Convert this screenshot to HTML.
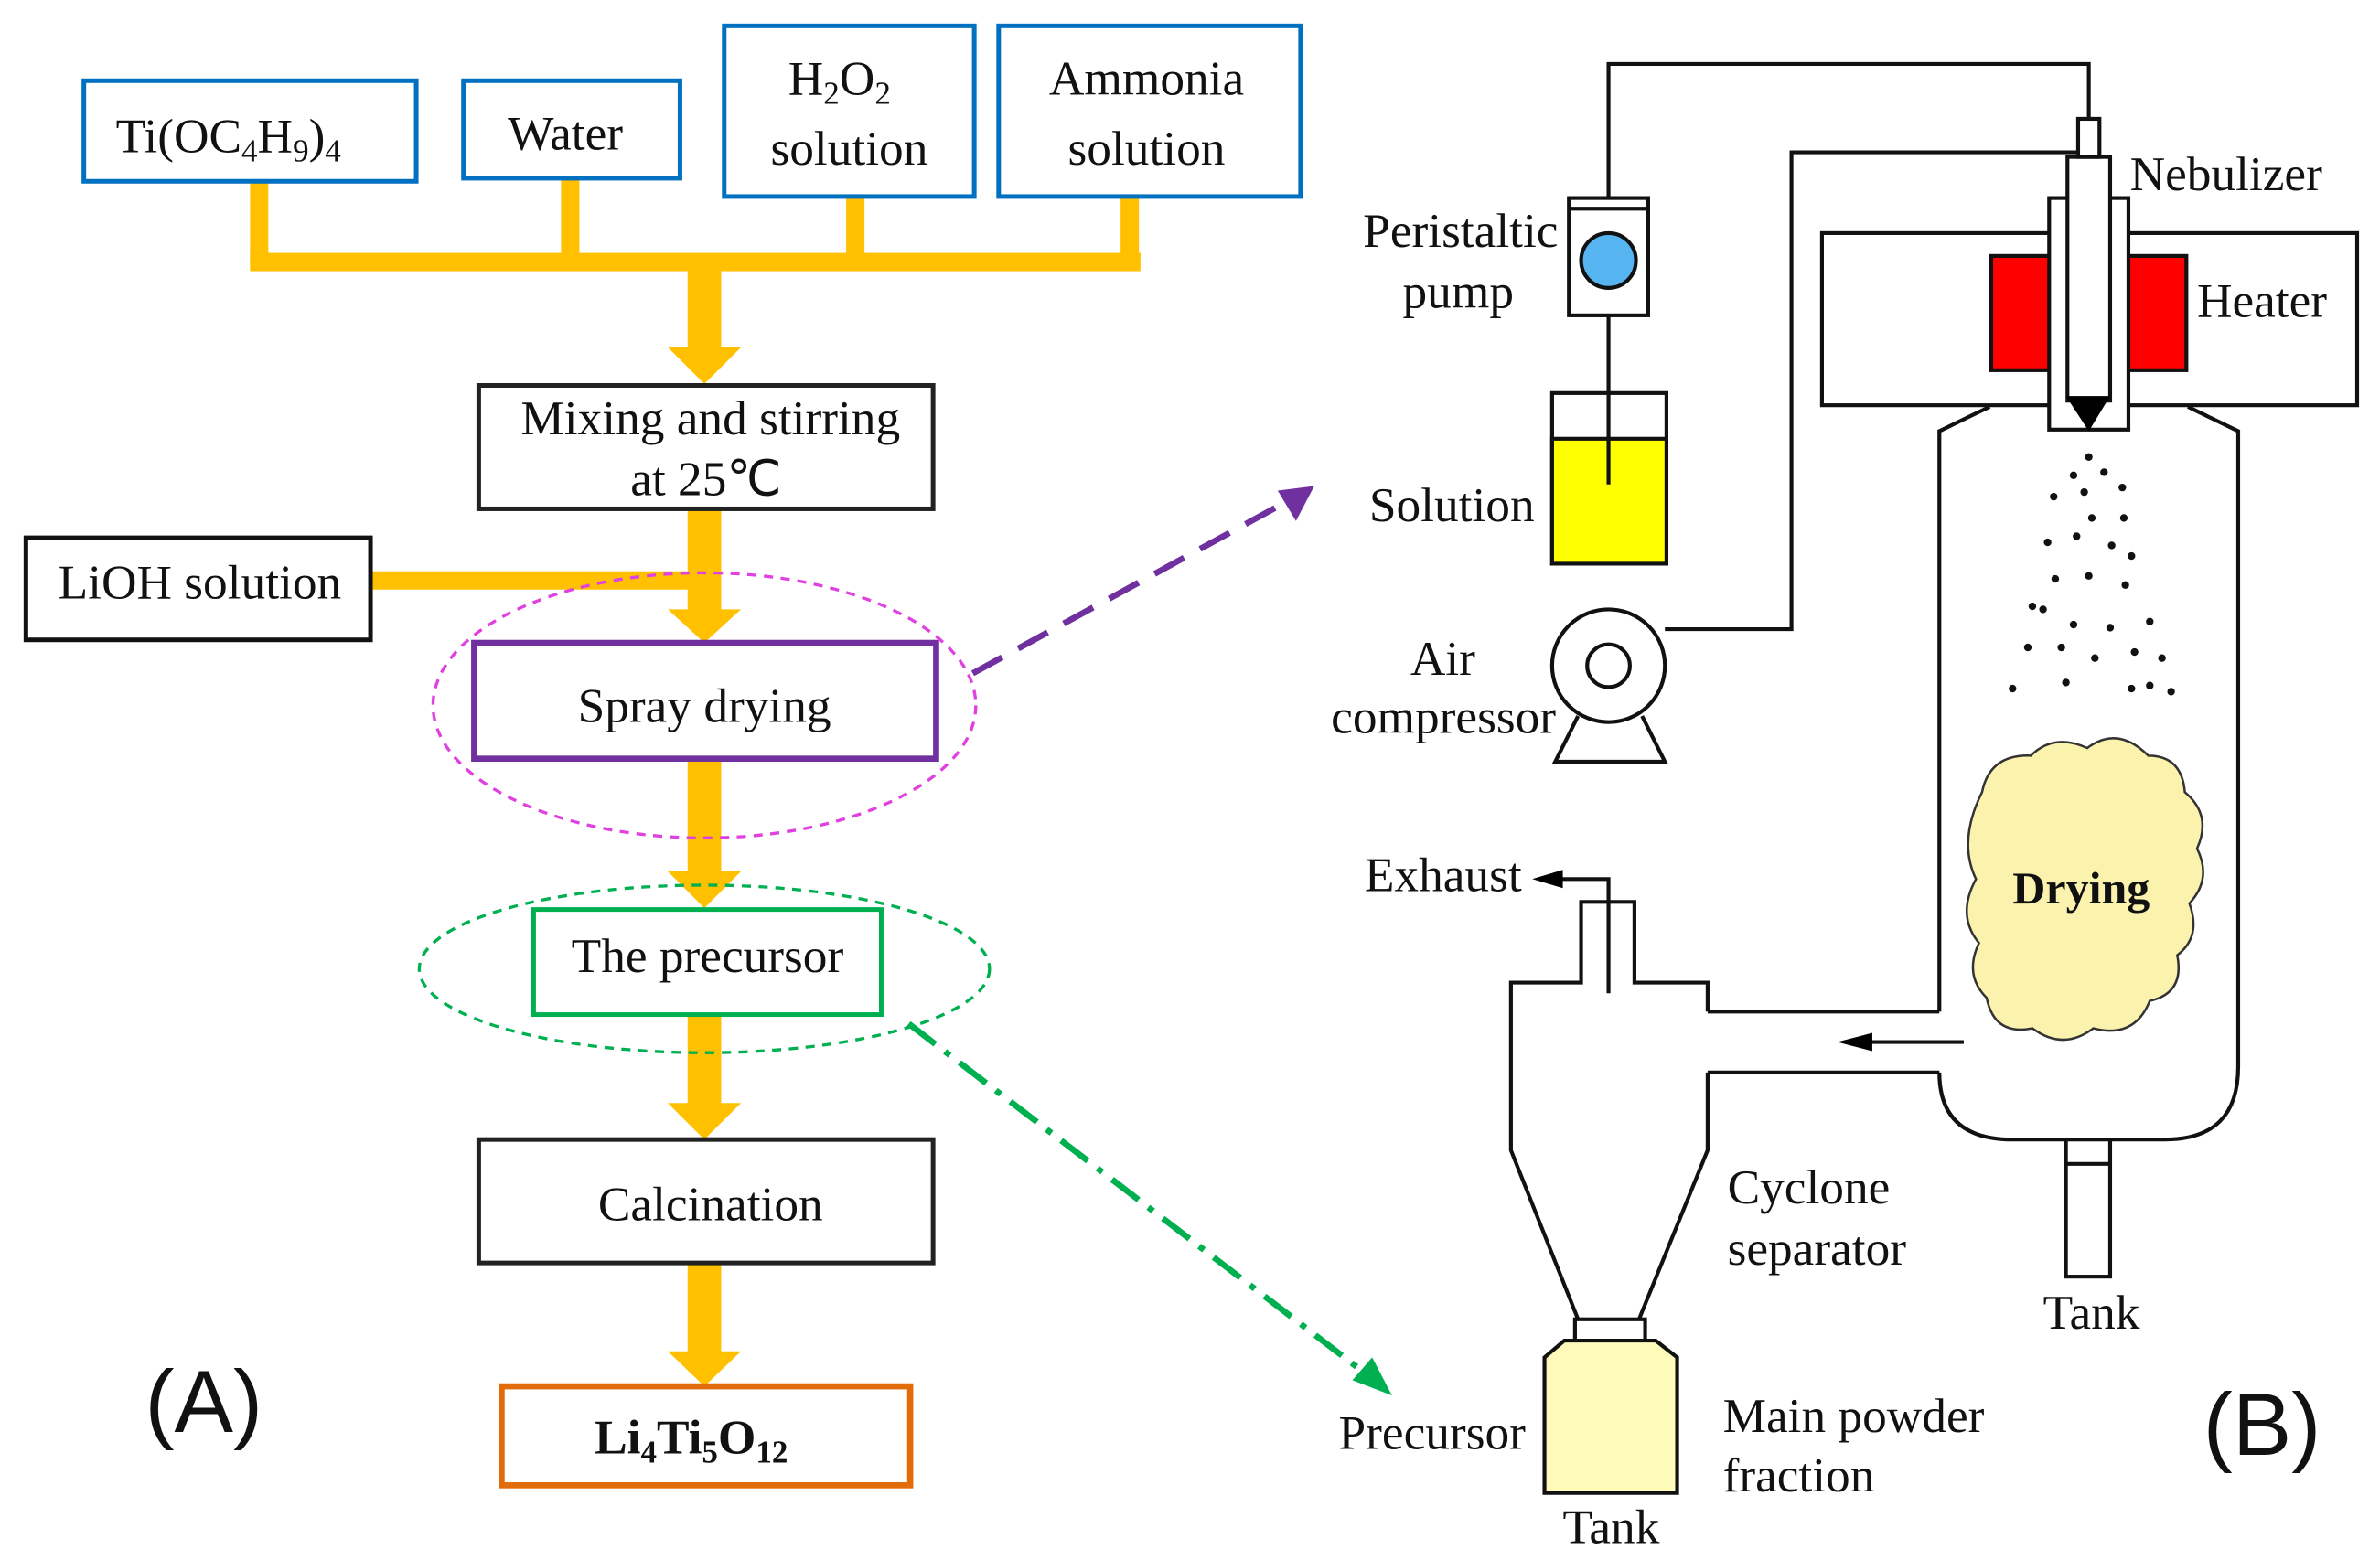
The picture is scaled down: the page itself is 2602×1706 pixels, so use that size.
<!DOCTYPE html>
<html><head><meta charset="utf-8"><style>html,body{margin:0;padding:0;background:#fff}svg{display:block}</style></head>
<body>
<svg width="2602" height="1706" viewBox="0 0 1561 1024" preserveAspectRatio="none" xmlns="http://www.w3.org/2000/svg" font-family="Liberation Serif, serif" font-size="32">
<!-- orange connectors -->
<g fill="#ffc000">
<rect x="164" y="166" width="584" height="12"/>
<rect x="164" y="119" width="12" height="55"/>
<rect x="368" y="117" width="12" height="55"/>
<rect x="555" y="129" width="12" height="43"/>
<rect x="735" y="129" width="12" height="43"/>
<rect x="451" y="172" width="22" height="58"/><path d="M438,228 L486,228 L462,252z"/>
<rect x="451" y="334" width="22" height="68"/><path d="M438,400 L486,400 L462,422z"/>
<rect x="243" y="375" width="210" height="12"/>
<rect x="451" y="498" width="22" height="76"/><path d="M438,572 L486,572 L462,596z"/>
<rect x="451" y="666" width="22" height="60"/><path d="M438,724 L486,724 L462,748z"/>
<rect x="451" y="829" width="22" height="60"/><path d="M438,887 L486,887 L462,910z"/>
</g>
<!-- boxes -->
<g fill="#fff" stroke-width="3">
<rect x="55" y="53" width="218" height="66" stroke="#0070c0"/>
<rect x="304" y="53" width="142" height="64" stroke="#0070c0"/>
<rect x="475" y="17" width="164" height="112" stroke="#0070c0"/>
<rect x="655" y="17" width="198" height="112" stroke="#0070c0"/>
<rect x="314" y="253" width="298" height="81" stroke="#222"/>
<rect x="17" y="353" width="226" height="67" stroke="#111"/>
<rect x="311" y="422" width="303" height="76" stroke="#7030a0" stroke-width="4"/>
<rect x="350" y="597" width="228" height="69" stroke="#00b050"/>
<rect x="314" y="748" width="298" height="81" stroke="#222"/>
<rect x="329" y="910" width="268" height="65" stroke="#e36c0a" stroke-width="4"/>
</g>
<ellipse cx="462" cy="463" rx="178" ry="87" fill="none" stroke="#e040e0" stroke-width="2" stroke-dasharray="6,5"/>
<ellipse cx="462" cy="636" rx="187" ry="55" fill="none" stroke="#00b050" stroke-width="2" stroke-dasharray="6,5"/>
<g fill="#111">
<text x="76" y="100">Ti(OC<tspan font-size="21" dy="6">4</tspan><tspan dy="-6">H</tspan><tspan font-size="21" dy="6">9</tspan><tspan dy="-6">)</tspan><tspan font-size="21" dy="6">4</tspan></text>
<text x="333" y="98">Water</text>
<text x="517" y="62">H<tspan font-size="21" dy="6">2</tspan><tspan dy="-6">O</tspan><tspan font-size="21" dy="6">2</tspan></text>
<text x="557" y="108" text-anchor="middle">solution</text>
<text x="752" y="62" text-anchor="middle">Ammonia</text>
<text x="752" y="108" text-anchor="middle">solution</text>
<text x="466" y="285" text-anchor="middle">Mixing and stirring</text>
<text x="463" y="325" text-anchor="middle">at 25℃</text>
<text x="131" y="393" text-anchor="middle">LiOH solution</text>
<text x="462" y="474" text-anchor="middle">Spray drying</text>
<text x="464" y="638" text-anchor="middle">The precursor</text>
<text x="466" y="801" text-anchor="middle">Calcination</text>
<text x="390" y="954" font-weight="bold">Li<tspan font-size="21" dy="6">4</tspan><tspan dy="-6">Ti</tspan><tspan font-size="21" dy="6">5</tspan><tspan dy="-6">O</tspan><tspan font-size="21" dy="6">12</tspan></text>
<text x="95" y="940" font-family="Liberation Sans, sans-serif" font-size="58">(A)</text>
<text x="1445" y="955" font-family="Liberation Sans, sans-serif" font-size="58">(B)</text>
</g>
<!-- dashed arrows -->
<line x1="638" y1="442" x2="848" y2="327" stroke="#7030a0" stroke-width="4" stroke-dasharray="22,12"/>
<path d="M862,319 L838,322 L850,342z" fill="#7030a0"/>
<line x1="596" y1="672" x2="900" y2="905" stroke="#00b050" stroke-width="4" stroke-dasharray="22,8,4,8"/>
<path d="M913,916 L887,906 L900,891z" fill="#00b050"/>
<!-- right diagram -->
<g fill="none" stroke="#111" stroke-width="2.5">
<polyline points="1055,130 1055,42 1370,42 1370,78"/>
<polyline points="1092,413 1175,413 1175,100 1363,100"/>
<rect x="1195" y="153" width="351" height="113" fill="#fff"/>
<rect x="1306" y="168" width="128" height="75" fill="#ff0000"/>
<rect x="1344" y="130" width="52" height="152" fill="#fff"/>
<rect x="1356" y="103" width="28" height="160" fill="#fff"/>
<rect x="1363" y="78" width="14" height="25" fill="#fff"/>
<path d="M1272,664 L1272,283 L1305,267 M1435,267 L1468,283 L1468,700 Q1468,748 1420,748 L1320,748 Q1272,748 1272,704"/>
<polyline points="1120,664 1272,664"/>
<polyline points="1120,704 1272,704"/>
<path d="M1120,664 L1120,645 L1072,645 L1072,592 L1037,592 L1037,645 L991,645 L991,755 L1035,866 M1120,704 L1120,755 L1075,866"/>
<polyline points="1055,652 1055,577 1012,577"/>
<rect x="1355" y="748" width="29" height="90" fill="#fff"/>
<line x1="1355" y1="764" x2="1384" y2="764"/>
<rect x="1033" y="866" width="46" height="14" fill="#fff"/>
<path d="M1026,880 L1086,880 L1100,891 L1100,980 L1013,980 L1013,891z" fill="#fffcbb"/>
<rect x="1029" y="130" width="52" height="77" fill="#fff"/>
<line x1="1029" y1="137" x2="1081" y2="137"/>
<circle cx="1055" cy="171" r="18" fill="#56b4f0"/>
<rect x="1018" y="258" width="75" height="112" fill="#fff"/>
<rect x="1018" y="288" width="75" height="82" fill="#ffff00"/>
<line x1="1055" y1="207" x2="1055" y2="318"/>
<path d="M1035,470 L1020,500 L1092,500 L1077,470" fill="#fff"/>
<circle cx="1055" cy="437" r="37" fill="#fff"/>
<circle cx="1055" cy="437" r="14"/>
<line x1="1288" y1="684" x2="1225" y2="684"/>
</g>
<path d="M1355,260 L1384,260 L1370,283z" fill="#000"/>
<path d="M1205,684 L1228,678 L1228,690z" fill="#000"/>
<path d="M1005,577 L1025,571 L1025,583z" fill="#000"/>
<path d="M1300,520 q5,-25 32,-24 q15,-15 37,-5 q20,-15 40,5 q22,0 24,24 q18,15 8,37 q10,20 -5,36 q8,22 -8,34 q5,25 -18,30 q-10,25 -37,18 q-20,15 -40,0 q-25,5 -30,-20 q-15,-15 -5,-36 q-15,-18 -2,-42 q-12,-25 4,-57z" fill="#fbf3ad" stroke="#333" stroke-width="1.5"/>
<g fill="#111">
<circle cx="1370" cy="300" r="2.5"/><circle cx="1360" cy="312" r="2.5"/><circle cx="1380" cy="310" r="2.5"/>
<circle cx="1347" cy="326" r="2.5"/><circle cx="1367" cy="323" r="2.5"/><circle cx="1392" cy="320" r="2.5"/>
<circle cx="1372" cy="340" r="2.5"/><circle cx="1393" cy="340" r="2.5"/><circle cx="1343" cy="356" r="2.5"/>
<circle cx="1362" cy="352" r="2.5"/><circle cx="1385" cy="358" r="2.5"/><circle cx="1398" cy="365" r="2.5"/>
<circle cx="1348" cy="380" r="2.5"/><circle cx="1370" cy="378" r="2.5"/><circle cx="1394" cy="384" r="2.5"/>
<circle cx="1333" cy="398" r="2.5"/><circle cx="1340" cy="400" r="2.5"/><circle cx="1360" cy="410" r="2.5"/>
<circle cx="1384" cy="412" r="2.5"/><circle cx="1410" cy="408" r="2.5"/><circle cx="1330" cy="425" r="2.5"/>
<circle cx="1352" cy="425" r="2.5"/><circle cx="1374" cy="432" r="2.5"/><circle cx="1400" cy="428" r="2.5"/>
<circle cx="1418" cy="432" r="2.5"/><circle cx="1320" cy="452" r="2.5"/><circle cx="1355" cy="448" r="2.5"/>
<circle cx="1398" cy="452" r="2.5"/><circle cx="1410" cy="450" r="2.5"/><circle cx="1424" cy="454" r="2.5"/>
<text x="1397" y="125">Nebulizer</text>
<text x="1441" y="208">Heater</text>
<text x="894" y="162">Peristaltic</text>
<text x="920" y="202">pump</text>
<text x="898" y="342">Solution</text>
<text x="925" y="443">Air</text>
<text x="873" y="481">compressor</text>
<text x="895" y="585">Exhaust</text>
<text x="1320" y="593" font-weight="bold" font-size="30">Drying</text>
<text x="1133" y="790">Cyclone</text>
<text x="1133" y="830">separator</text>
<text x="1340" y="872">Tank</text>
<text x="878" y="951">Precursor</text>
<text x="1130" y="940">Main powder</text>
<text x="1130" y="979">fraction</text>
<text x="1025" y="1013">Tank</text>
</g>
</svg>
</body></html>
